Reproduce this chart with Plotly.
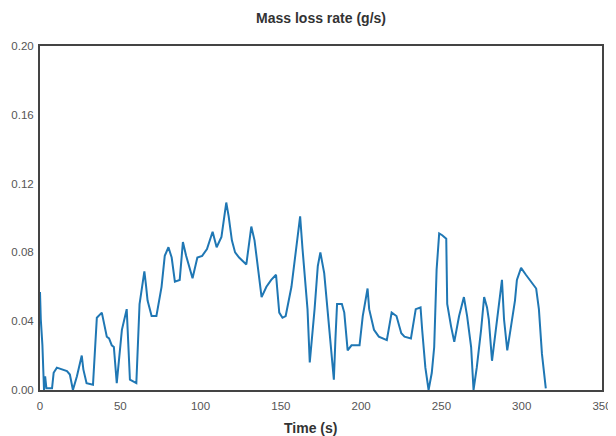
import plotly.graph_objects as go

time_s = [0, 0.5, 1.5, 2.5, 3.2, 4, 7.5, 8.5, 10.5, 14, 16.8, 18.6, 20.5, 23, 26, 27, 29, 33,
          35.4, 38.5, 41.6, 43, 44.7, 46, 47.8, 51, 54, 56, 58, 60, 62, 65, 66, 67, 69.5, 72.5,
          75.7, 77.7, 80, 82, 84, 87, 89, 91, 95, 98, 101, 104, 107.5, 110, 113, 116, 117.5,
          119.5, 121.5, 124, 128.5, 131.6, 133.6, 135.5, 138, 141, 144, 147, 149, 151, 153,
          156.6, 159.7, 162, 163.5, 166.6, 168, 169.5, 171, 173, 174.6, 177, 179, 181, 183,
          184, 185, 188, 189.5, 191.6, 194, 199, 201, 204, 205, 208, 211, 216, 219, 222, 225,
          227, 231, 234, 237, 238, 240, 242, 244, 245.5, 247, 248.6, 250.5, 253, 253.6, 256,
          258, 261, 264, 266, 268.5, 270, 272, 274.7, 276.6, 278.4, 279.5, 281.5, 284, 286,
          287.7, 289, 291, 293, 295.8, 297, 299.6, 302.6, 305.8, 309, 310.7, 312.6, 315]
mass_loss = [0.057, 0.041, 0.026, 0.0, 0.008, 0.001, 0.001, 0.01, 0.013, 0.012, 0.011, 0.009,
             0.0, 0.008, 0.02, 0.012, 0.004, 0.003, 0.042, 0.045, 0.031, 0.03, 0.026, 0.025,
             0.004, 0.035, 0.047, 0.006, 0.005, 0.004, 0.05, 0.069, 0.061, 0.052, 0.043, 0.043,
             0.06, 0.078, 0.083, 0.077, 0.063, 0.064, 0.086, 0.078, 0.065, 0.077, 0.078, 0.082,
             0.092, 0.083, 0.089, 0.109, 0.101, 0.087, 0.08, 0.077, 0.073, 0.095, 0.087, 0.072,
             0.054, 0.06, 0.064, 0.067, 0.045, 0.042, 0.043, 0.06, 0.082, 0.101, 0.082, 0.047,
             0.016, 0.03, 0.047, 0.072, 0.08, 0.068, 0.048, 0.025, 0.006, 0.03, 0.05, 0.05,
             0.045, 0.023, 0.026, 0.026, 0.043, 0.059, 0.047, 0.035, 0.031, 0.029, 0.045, 0.043,
             0.033, 0.031, 0.030, 0.047, 0.048, 0.035, 0.013, 0.0, 0.01, 0.025, 0.07, 0.091,
             0.09, 0.088, 0.05, 0.037, 0.028, 0.043, 0.054, 0.043, 0.025, 0.0, 0.013, 0.035,
             0.054, 0.048, 0.041, 0.017, 0.035, 0.052, 0.064, 0.041, 0.023, 0.035, 0.052, 0.064,
             0.071, 0.067, 0.063, 0.059, 0.047, 0.021, 0.001]

x_ticks = [0, 50, 100, 150, 200, 250, 300, 350]
y_ticks = [0.00, 0.04, 0.08, 0.12, 0.16, 0.20]

fig = go.Figure(go.Scatter(x=time_s, y=mass_loss, mode="lines",
                           line=dict(color="#1f77b4", width=2), hoverinfo="skip"))

axis_common = dict(showgrid=False, zeroline=False, showline=True, linecolor="#444",
                   linewidth=2, mirror=True, ticks="", automargin=False,
                   tickfont=dict(family="Liberation Sans, Arial", size=11.5, color="#555"))

fig.update_layout(
    width=616, height=436,
    margin=dict(l=32, r=22, t=38, b=54),
    paper_bgcolor="white", plot_bgcolor="white",
    showlegend=False,
    title=dict(text="<b>Mass loss rate (g/s)</b>", x=313 / 616, xanchor="center",
               y=1 - 10 / 436, yanchor="middle",
               font=dict(family="Liberation Sans, Arial", size=14, color="#333")),
    xaxis=dict(range=[0, 350], tickvals=x_ticks, ticklabelstandoff=4, **axis_common),
    yaxis=dict(range=[0, 0.2], tickvals=y_ticks, tickformat=".2f", ticklabelstandoff=2,
               **axis_common),
    annotations=[dict(text="<b>Time (s)</b>", xref="paper", yref="paper",
                      x=(310 - 40) / 562, y=-(428 - 390) / 344,
                      xanchor="center", yanchor="middle", showarrow=False,
                      font=dict(family="Liberation Sans, Arial", size=14, color="#333"))],
)

fig.write_html("out.html")
